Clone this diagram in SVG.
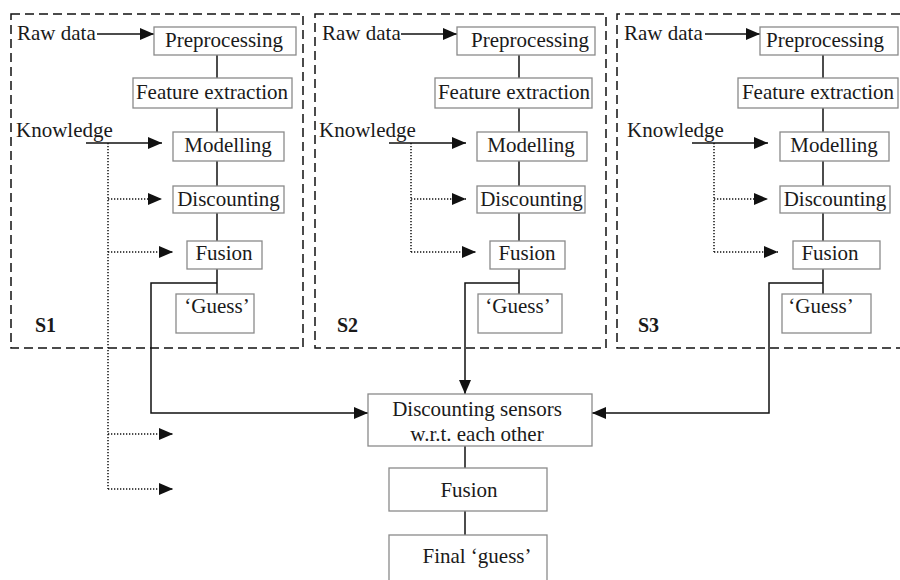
<svg xmlns="http://www.w3.org/2000/svg" width="900" height="580" viewBox="0 0 900 580">
<defs>
<marker id="ah" markerUnits="userSpaceOnUse" markerWidth="14" markerHeight="12" refX="14" refY="6" orient="auto" overflow="visible">
<path d="M0,0 L14,6 L0,12 Z" fill="#111"/>
</marker>
<style>
.t{font-family:"Liberation Serif","Times New Roman",serif;font-size:21px;fill:#1a1a1a}
.m{text-anchor:middle}
.b{font-weight:bold;font-size:20px}
.box{fill:#fff;stroke:#8a8a8a;stroke-width:1.3}
.grp{fill:none;stroke:#111;stroke-width:1.5;stroke-dasharray:9 5}
.c{fill:none;stroke:#111;stroke-width:1.5}
.a{marker-end:url(#ah)}
.d{fill:none;stroke:#111;stroke-width:1.5;stroke-dasharray:1.3 1.7}
</style>
</defs>
<rect width="900" height="580" fill="#fff"/>

<g id="groups">
<rect id="S1-frame" class="grp" x="11" y="14" width="292" height="334"/>
<rect id="S2-frame" class="grp" x="315" y="14" width="291" height="334"/>
<path id="S3-frame" class="grp" d="M900,14 H617 V348 H900"/>
<text class="t b" x="35" y="332">S1</text>
<text class="t b" x="337" y="332">S2</text>
<text class="t b" x="638" y="332">S3</text>
</g>

<g id="connectors">
<!-- S1 -->
<path class="c" d="M217,55 V294"/>
<path class="c a" d="M97,34 H154"/>
<path class="c a" d="M86,143 H162"/>
<path class="d" d="M108,143 V489"/>
<path class="d a" d="M108,199 H162"/>
<path class="d a" d="M108,252 H173"/>
<path class="d a" d="M108,434 H173"/>
<path class="d a" d="M108,489 H173"/>
<path class="c a" d="M217,283 H151 V413 H368"/>
<!-- S2 -->
<path class="c" d="M519,55 V294"/>
<path class="c a" d="M401,34 H457"/>
<path class="c a" d="M389,143 H466"/>
<path class="d" d="M411,143 V252"/>
<path class="d a" d="M411,199 H466"/>
<path class="d a" d="M411,252 H476"/>
<path class="c a" d="M519,283 H465 V394"/>
<!-- S3 -->
<path class="c" d="M823,55 V294"/>
<path class="c a" d="M705,34 H760"/>
<path class="c a" d="M692,143 H768"/>
<path class="d" d="M714,143 V252"/>
<path class="d a" d="M714,199 H768"/>
<path class="d a" d="M714,252 H778"/>
<path class="c a" d="M823,283 H769 V413 H592"/>
<!-- central -->
<path class="c" d="M465,446 V468"/>
<path class="c" d="M465,511 V535"/>
</g>

<g id="inputs">
<text class="t" x="17" y="40">Raw data</text>
<text class="t" x="16" y="137">Knowledge</text>
<text class="t" x="322" y="40">Raw data</text>
<text class="t" x="319" y="137">Knowledge</text>
<text class="t" x="624" y="40">Raw data</text>
<text class="t" x="627" y="137">Knowledge</text>
</g>

<g id="s1-preprocessing"><rect class="box" x="154" y="27" width="142" height="28"/><text class="t m" x="224" y="47">Preprocessing</text></g>
<g id="s1-feature"><rect class="box" x="133" y="78" width="159" height="30"/><text class="t m" x="212" y="99">Feature extraction</text></g>
<g id="s1-modelling"><rect class="box" x="173" y="132" width="111" height="29"/><text class="t m" x="228" y="152">Modelling</text></g>
<g id="s1-discounting"><rect class="box" x="173" y="186" width="111" height="27"/><text class="t m" x="228.5" y="206">Discounting</text></g>
<g id="s1-fusion"><rect class="box" x="187" y="241" width="75" height="28"/><text class="t m" x="224" y="260">Fusion</text></g>
<g id="s1-guess"><rect class="box" x="176" y="294" width="78" height="39"/><text class="t m" x="217" y="313">‘Guess’</text></g>

<g id="s2-preprocessing"><rect class="box" x="457" y="27" width="138" height="28"/><text class="t m" x="530" y="47">Preprocessing</text></g>
<g id="s2-feature"><rect class="box" x="435" y="78" width="157" height="30"/><text class="t m" x="514" y="99">Feature extraction</text></g>
<g id="s2-modelling"><rect class="box" x="477" y="132" width="110" height="29"/><text class="t m" x="531" y="152">Modelling</text></g>
<g id="s2-discounting"><rect class="box" x="477" y="186" width="108" height="27"/><text class="t m" x="531.5" y="206">Discounting</text></g>
<g id="s2-fusion"><rect class="box" x="490" y="241" width="75" height="28"/><text class="t m" x="527" y="260">Fusion</text></g>
<g id="s2-guess"><rect class="box" x="478" y="294" width="84" height="39"/><text class="t m" x="518" y="313">‘Guess’</text></g>

<g id="s3-preprocessing"><rect class="box" x="760" y="27" width="138" height="28"/><text class="t m" x="825" y="47">Preprocessing</text></g>
<g id="s3-feature"><rect class="box" x="738" y="78" width="160" height="30"/><text class="t m" x="818" y="99">Feature extraction</text></g>
<g id="s3-modelling"><rect class="box" x="780" y="132" width="109" height="29"/><text class="t m" x="834" y="152">Modelling</text></g>
<g id="s3-discounting"><rect class="box" x="780" y="186" width="110" height="27"/><text class="t m" x="835" y="206">Discounting</text></g>
<g id="s3-fusion"><rect class="box" x="793" y="241" width="87" height="28"/><text class="t m" x="830" y="260">Fusion</text></g>
<g id="s3-guess"><rect class="box" x="782" y="294" width="89" height="39"/><text class="t m" x="821" y="313">‘Guess’</text></g>

<g id="discounting-sensors"><rect class="box" x="368" y="394" width="224" height="52"/><text class="t m" x="477" y="416">Discounting sensors</text><text class="t m" x="477" y="441">w.r.t. each other</text></g>
<g id="final-fusion"><rect class="box" x="389" y="468" width="158" height="43"/><text class="t m" x="469" y="497">Fusion</text></g>
<g id="final-guess"><rect class="box" x="389" y="535" width="158" height="50"/><text class="t m" x="477" y="563">Final ‘guess’</text></g>
</svg>
